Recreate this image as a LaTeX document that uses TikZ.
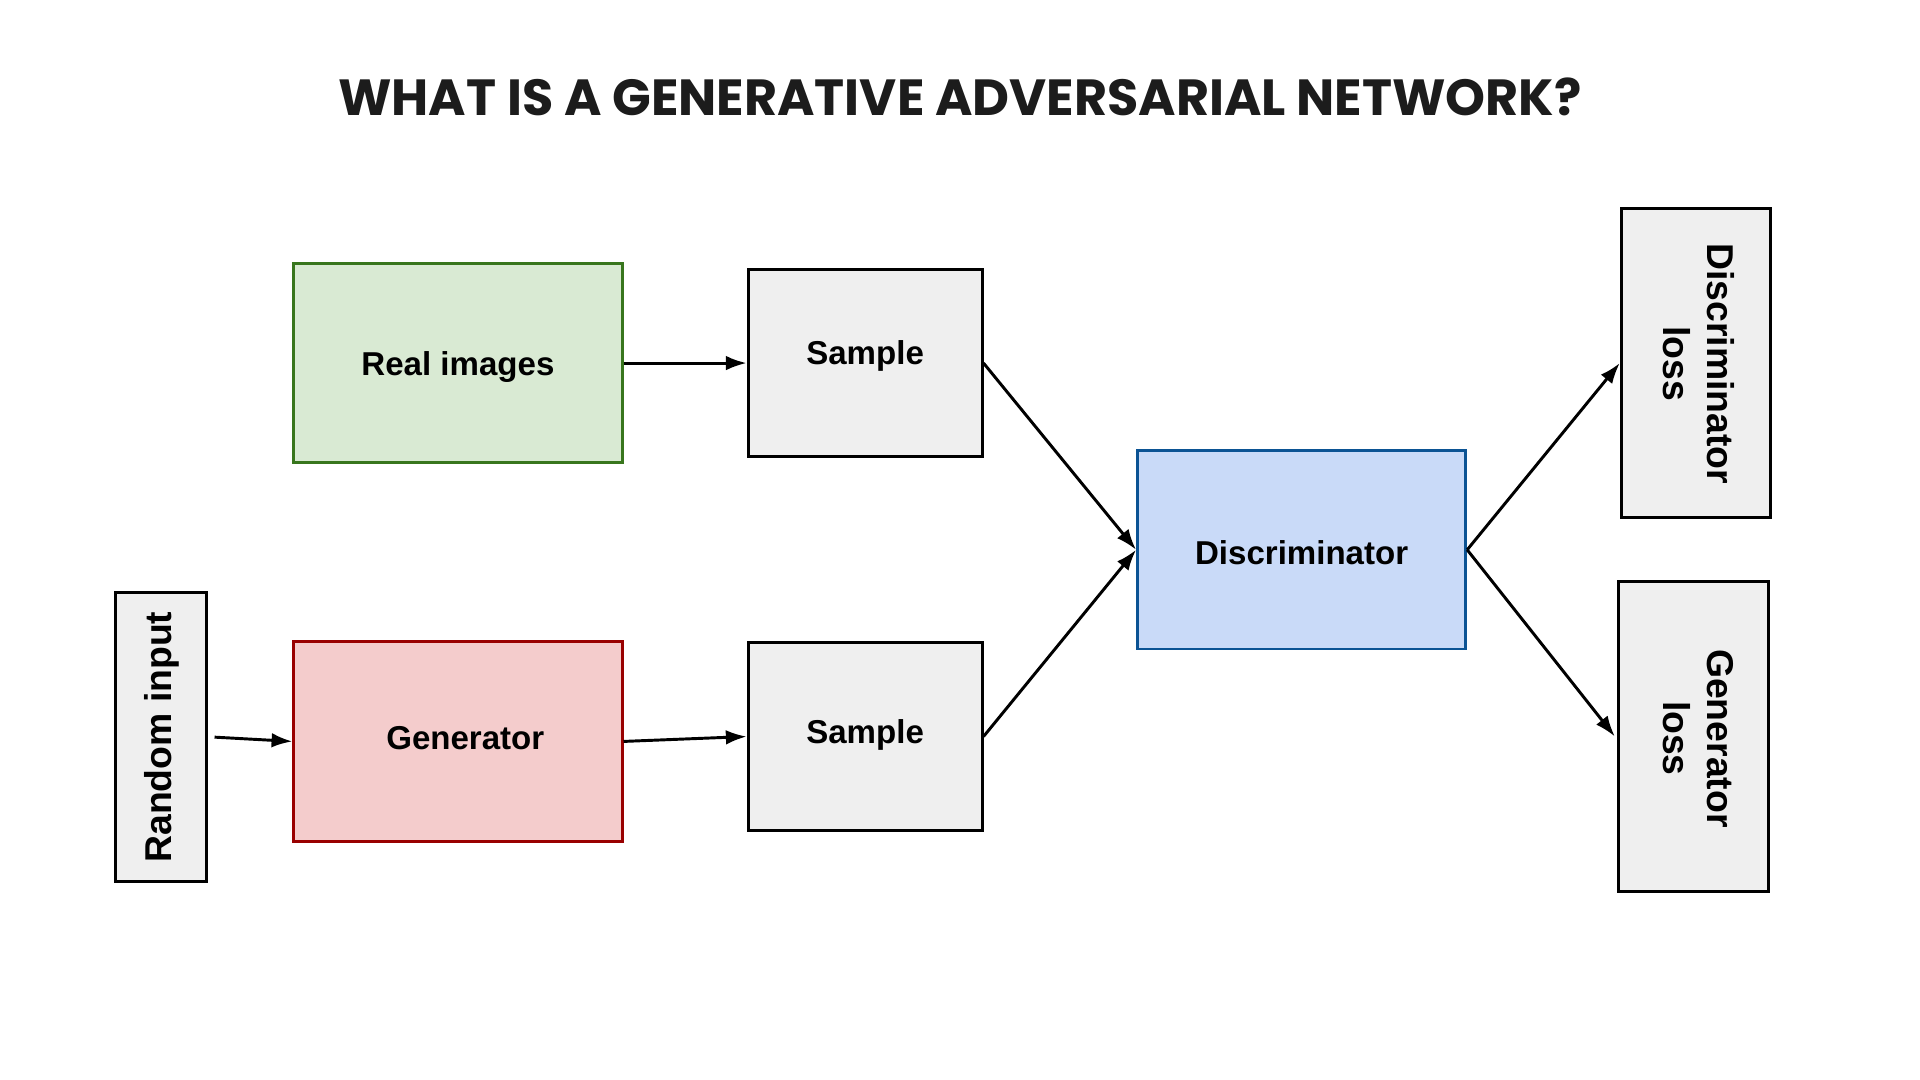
\documentclass[tikz,border=0pt]{standalone}
\usepackage{fontspec}
\setmainfont{Liberation Sans}
\newfontfamily\titlefont{Poppins}
\usetikzlibrary{arrows.meta,calc}
\definecolor{grayfill}{HTML}{EFEFEF}
\definecolor{greenfill}{HTML}{D9EAD3}
\definecolor{greenline}{HTML}{38761D}
\definecolor{redfill}{HTML}{F4CCCC}
\definecolor{redline}{HTML}{990000}
\definecolor{bluefill}{HTML}{C9DAF8}
\definecolor{blueline}{HTML}{0B5394}
\definecolor{titlecol}{HTML}{1C1C1C}
\tikzset{
  graybox/.style={draw=black, fill=grayfill, line width=2.4pt, inner sep=0pt},
  greenbox/.style={draw=greenline, fill=greenfill, line width=2.4pt, inner sep=0pt},
  redbox/.style={draw=redline, fill=redfill, line width=2.4pt, inner sep=0pt},
  bluebox/.style={draw=blueline, fill=bluefill, line width=2.4pt, inner sep=0pt},
  lbl/.style={font=\fontsize{27}{31}\selectfont\bfseries, inner sep=0pt, align=center},
  rlbl/.style={font=\fontsize{30.5}{36}\selectfont\bfseries, inner sep=0pt, align=center},
  titlestyle/.style={font=\titlefont\fontsize{41.5}{46}\selectfont\bfseries, text=titlecol, inner sep=0pt},
  conn/.style={line width=2.4pt, -{Latex[length=17pt,width=12pt]}}
}
\begin{document}
\begin{tikzpicture}[x=1pt,y=-1pt]
\useasboundingbox[fill=white] (0,0) rectangle (1568,882);
\node[titlestyle] (title) at (784,79) {WHAT IS A GENERATIVE ADVERSARIAL NETWORK?};
% boxes
\node[greenbox, minimum width=268pt, minimum height=163pt] (real) at (374,296.5) {};
\node[graybox, minimum width=191pt, minimum height=153pt] (s1) at (706.5,296.5) {};
\node[redbox, minimum width=268pt, minimum height=163pt] (gen) at (374,605.5) {};
\node[graybox, minimum width=191pt, minimum height=153pt] (s2) at (706.5,601.5) {};
\node[graybox, minimum width=75pt, minimum height=236pt] (rand) at (131.5,602) {};
\node[bluebox, minimum width=268pt, minimum height=162pt] (disc) at (1063,449) {};
\node[graybox, minimum width=122pt, minimum height=253pt] (dloss) at (1385,296.5) {};
\node[graybox, minimum width=122pt, minimum height=253pt] (gloss) at (1383,601.5) {};
% labels
\node[lbl] (treal) at (374,300) {Real images};
\node[lbl] (ts1) at (706.5,291) {Sample};
\node[lbl] (tgen) at (380,603) {Generator};
\node[lbl] (ts2) at (706.5,600) {Sample};
\node[lbl] (tdisc) at (1063,451.5) {Discriminator};
\node[rlbl, rotate=90] (trand) at (132,602) {Random input};
\node[rlbl, rotate=-90] (tdloss) at (1387,297) {Discriminator\\loss};
\node[rlbl, rotate=-90] (tgloss) at (1387,603) {Generator\\loss};
% connectors
\coordinate (randout) at ($(rand.east)+(5,0)$);
\coordinate (glossin) at ($(gloss.west)+(-2,0)$);
\draw[conn] (real.east) -- (s1.west);
\draw[conn] (randout) -- (gen.west);
\draw[conn] (gen.east) -- (s2.west);
\draw[conn] (s1.east) -- (disc.west);
\draw[conn] (s2.east) -- (disc.west);
\draw[conn] (disc.east) -- (dloss.west);
\draw[conn] (disc.east) -- (glossin);
\end{tikzpicture}
\end{document}
